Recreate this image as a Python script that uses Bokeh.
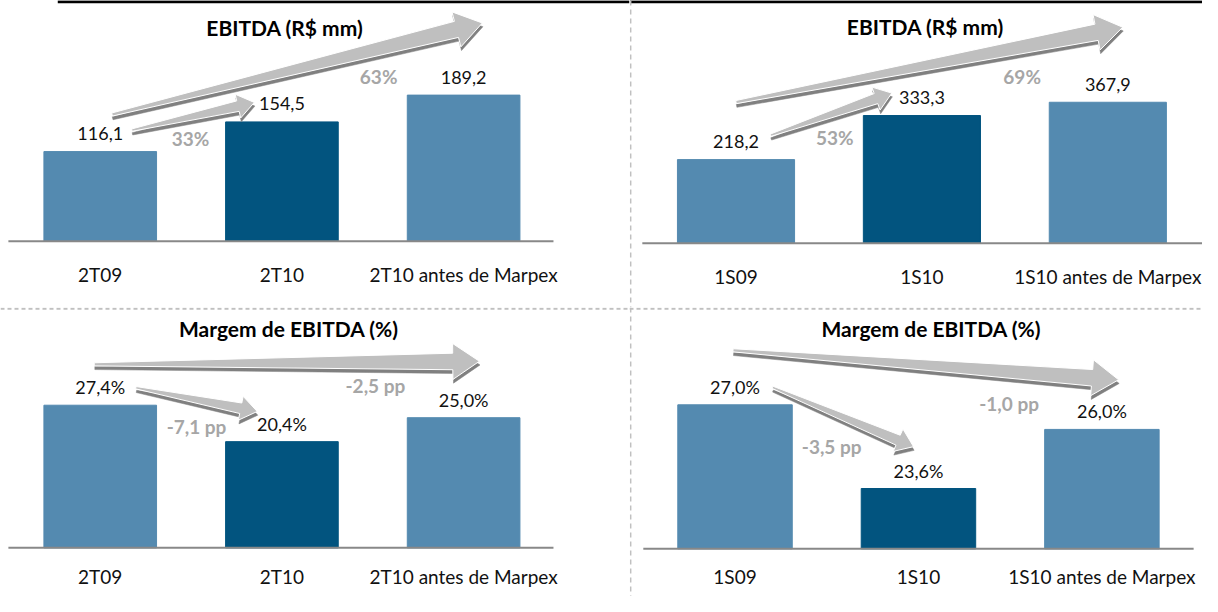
import math
from bokeh.plotting import figure
from bokeh.layouts import column, row
from bokeh.models import Range1d, LinearAxis, FixedTicker, Span
from bokeh.embed import file_html
from bokeh.resources import INLINE
from bokeh.core.properties import value

# ---------------- data ----------------
cats_q = ["2T09", "2T10", "2T10 antes de Marpex"]
cats_s = ["1S09", "1S10", "1S10 antes de Marpex"]
ebitda_q = [116.1, 154.5, 189.2]
ebitda_s = [218.2, 333.3, 367.9]
margin_q = [27.4, 20.4, 25.0]
margin_s = [27.0, 23.6, 26.0]
ebitda_q_growth = ["33%", "63%"]
ebitda_s_growth = ["53%", "69%"]
margin_q_delta = ["-7,1 pp", "-2,5 pp"]
margin_s_delta = ["-3,5 pp", "-1,0 pp"]
title_ebitda = "EBITDA (R$ mm)"
title_margin = "Margem de EBITDA (%)"

# ---------------- style ----------------
FONT = "Lato"
LIGHT = "#548AB0"
DARK = "#02547F"
BAR_COLORS = [LIGHT, DARK, LIGHT]
ARROW_FILL = "#BFBFBF"
ARROW_SHADE = "#808080"
NOTE_COLOR = "#A6A6A6"
AXIS_COLOR = "#888888"
DIV_COLOR = "#C0C0C0"

TOTAL_W, TOTAL_H = 1202, 596
REF_W, REF_H = 1218, 612
SPLIT_X, SPLIT_Y = 637, 315
LEFT_W = round(SPLIT_X * TOTAL_W / REF_W)
RIGHT_W = TOTAL_W - LEFT_W
TOP_H = round(SPLIT_Y * TOTAL_H / REF_H)
BOT_H = TOTAL_H - TOP_H

ARROW_SIZES = {"big": (1.6, 8.5, 18.5, 27.0), "small": (1.2, 5.5, 12.5, 17.0)}


def fmt_num(v):
    return f"{v:.1f}".replace(".", ",")


def fmt_pct(v):
    return fmt_num(v) + "%"


def panel(cats, vals, base_val, fmt, title, notes, g, W, H, arrows,
          top_line_from=None, vdiv=False, hdiv=False):
    def dx(px):
        return (px - g["c0"]) / g["step"]

    def dy(py):
        return base_val + (g["base_px"] - py) / g["ppu"]

    def px(x):
        return g["c0"] + x * g["step"]

    def py(y):
        return g["base_px"] - (y - base_val) * g["ppu"]

    x_start, x_end = dx(g["qx0"]), dx(g["qx1"])
    y_start, y_end = dy(g["qy1"]), dy(g["qy0"])
    p = figure(width=W, height=H, x_range=Range1d(x_start, x_end),
               y_range=Range1d(y_start, y_end), x_axis_type=None, y_axis_type=None,
               toolbar_location=None, output_backend="svg", min_border=0)
    p.min_border_left = p.min_border_right = 0
    p.min_border_top = p.min_border_bottom = 0
    p.outline_line_color = None
    p.background_fill_color = "white"
    p.border_fill_color = "white"

    idx = list(range(len(cats)))
    p.vbar(x=idx, top=vals, bottom=base_val, width=g["bw"], color=BAR_COLORS)
    p.segment(x0=[dx(g["ax0"])], y0=[base_val], x1=[dx(g["ax1"])], y1=[base_val],
              line_color=AXIS_COLOR, line_width=2)

    ax = LinearAxis(ticker=FixedTicker(ticks=idx),
                    major_label_overrides={i: c for i, c in zip(idx, cats)},
                    fixed_location=base_val)
    ax.axis_line_color = None
    ax.major_tick_line_color = None
    ax.minor_tick_line_color = None
    ax.major_label_standoff = g["standoff"]
    ax.major_label_text_font = FONT
    ax.major_label_text_font_size = "19px"
    ax.major_label_text_color = "#111111"
    p.add_layout(ax, "below")

    # arrows
    for (i0, i1, tdx, tdy, hdx, hdy, size, t, off), note in zip(arrows, notes):
        tx, ty = px(i0 + tdx), py(vals[i0]) - tdy
        hx, hy = px(i1 + hdx), py(vals[i1]) - hdy
        w_tail, w_shaft, w_head, l_head = ARROW_SIZES[size]
        L = math.hypot(hx - tx, hy - ty)
        ux, uy = (hx - tx) / L, (hy - ty) / L
        nx, ny = -uy, ux
        bx, by = hx - ux * l_head, hy - uy * l_head
        pts = [(tx + nx * w_tail, ty + ny * w_tail),
               (bx + nx * w_shaft, by + ny * w_shaft),
               (bx + nx * w_head, by + ny * w_head),
               (hx, hy),
               (bx - nx * w_head, by - ny * w_head),
               (bx - nx * w_shaft, by - ny * w_shaft),
               (tx - nx * w_tail, ty - ny * w_tail)]
        sx_, sy_ = 0.6, 3.8
        p.patch([dx(a + sx_) for a, b in pts], [dy(b + sy_) for a, b in pts],
                fill_color=ARROW_SHADE, line_color=ARROW_SHADE, line_width=0.5)
        p.patch([dx(a) for a, b in pts], [dy(b) for a, b in pts],
                fill_color=ARROW_FILL, line_color="white", line_width=1)
        mx, my = tx + t * (hx - tx), ty + t * (hy - ty) + off
        p.text(x=[dx(mx)], y=[dy(my)], text=[note], text_align="center",
               text_baseline="middle", text_font=value(FONT), text_font_style="bold",
               text_font_size="19px", text_color=NOTE_COLOR)

    # value labels
    p.text(x=idx, y=vals, text=[fmt(v) for v in vals], text_align="center",
           text_baseline="middle", y_offset=-18, text_font=value(FONT),
           text_font_size="18px", text_color="#111111")

    # title
    p.text(x=[dx(g["title_x"])], y=[dy(g["title_y"])], text=[title], text_align="center",
           text_baseline="middle", text_font=value(FONT), text_font_style="bold",
           text_font_size="21px", text_color="black")

    if top_line_from is not None:
        p.segment(x0=[dx(top_line_from)], y0=[dy(g["qy0"] + 1.3)], x1=[x_end],
                  y1=[dy(g["qy0"] + 1.3)], line_color="black", line_width=3)
    if vdiv:
        p.add_layout(Span(location=dx(SPLIT_X + 1.2), dimension="height",
                          line_color=DIV_COLOR, line_width=1.5, line_dash="5 4"))
    if hdiv:
        p.add_layout(Span(location=dy(SPLIT_Y + 1.2), dimension="width",
                          line_color=DIV_COLOR, line_width=2, line_dash="4 3"))
    return p


g_tl = dict(qx0=0, qx1=SPLIT_X, qy0=0, qy1=SPLIT_Y, c0=101, step=184, base_px=247,
            ppu=0.7924, bw=0.62, ax0=8, ax1=560, title_x=288, title_y=28, standoff=16)
g_tr = dict(qx0=SPLIT_X, qx1=REF_W, qy0=0, qy1=SPLIT_Y, c0=745, step=188.5, base_px=249,
            ppu=0.393, bw=0.63, ax0=650, ax1=REF_W, title_x=937, title_y=27, standoff=16)
g_bl = dict(qx0=0, qx1=SPLIT_X, qy0=SPLIT_Y, qy1=REF_H, c0=101, step=184, base_px=562,
            ppu=5.35, bw=0.62, ax0=8, ax1=560, title_x=292, title_y=337, standoff=11)
g_br = dict(qx0=SPLIT_X, qx1=REF_W, qy0=SPLIT_Y, qy1=REF_H, c0=744, step=186, base_px=563,
            ppu=25.3, bw=0.624, ax0=651, ax1=1209, title_x=943, title_y=337, standoff=10)

arr_tl = [(0, 1, 0.174, 22, -0.152, 20, "small", 0.48, 22),
          (0, 2, 0.065, 38, 0.103, 74, "big", 0.72, 29)]
arr_tr = [(0, 1, 0.186, 25, -0.162, 23, "small", 0.53, 25),
          (0, 2, 0.0, 59, 0.08, 77, "big", 0.74, 31)]
arr_bl = [(0, 1, 0.196, 18, -0.136, 31, "small", 0.5, 28),
          (0, 2, -0.033, 42, 0.087, 58, "big", 0.73, 24)]
arr_br = [(0, 1, 0.204, 18, -0.027, 43, "small", 0.42, 35),
          (0, 2, -0.011, 56, 0.091, 51, "big", 0.716, 33)]

p_tl = panel(cats_q, ebitda_q, 0.0, fmt_num, title_ebitda, ebitda_q_growth, g_tl,
             LEFT_W, TOP_H, arr_tl, top_line_from=58)
p_tr = panel(cats_s, ebitda_s, 0.0, fmt_num, title_ebitda, ebitda_s_growth, g_tr,
             RIGHT_W, TOP_H, arr_tr, top_line_from=SPLIT_X, vdiv=True)
p_bl = panel(cats_q, margin_q, 0.0, fmt_pct, title_margin, margin_q_delta, g_bl,
             LEFT_W, BOT_H, arr_bl, hdiv=True)
p_br = panel(cats_s, margin_s, 21.15, fmt_pct, title_margin, margin_s_delta, g_br,
             RIGHT_W, BOT_H, arr_br, vdiv=True, hdiv=True)

layout = column(row(p_tl, p_tr, spacing=0), row(p_bl, p_br, spacing=0), spacing=0)

open("out.html", "w").write(file_html(layout, INLINE))
